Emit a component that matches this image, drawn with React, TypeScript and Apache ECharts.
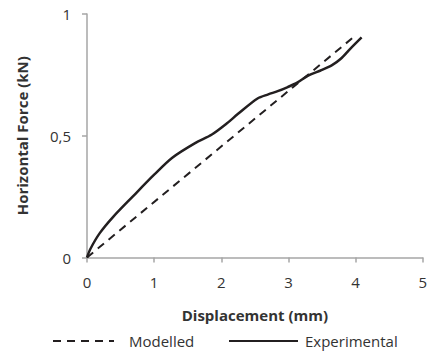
import React, { useEffect, useRef } from "react";
import * as echarts from "echarts";

const expX = [0, 0.05, 0.19, 0.39, 0.68, 1.0, 1.27, 1.61, 1.86, 2.08, 2.25, 2.54, 2.7, 2.84, 2.99, 3.13, 3.3, 3.48, 3.65, 3.78, 3.92, 4.09];
const expY = [0, 0.035, 0.1, 0.167, 0.25, 0.34, 0.41, 0.47, 0.505, 0.55, 0.59, 0.653, 0.67, 0.683, 0.70, 0.718, 0.748, 0.768, 0.79, 0.816, 0.857, 0.904];
const modX = [0, 4.0];
const modY = [0, 0.912];
const xTicks = [0, 1, 2, 3, 4, 5];
const yTicks = [0, 0.5, 1];

const FONT = "'Open Sans', sans-serif";
const TXT = "#333333";
const AX = "#a6a6a6";
const LINE = "#231f20";

export default function App() {
  const ref = useRef<HTMLDivElement>(null);
  useEffect(() => {
    if (!ref.current) return;
    const chart = echarts.init(ref.current, null, { renderer: "svg" });
    chart.setOption({
      animation: false,
      textStyle: { fontFamily: FONT },
      grid: { left: 87, right: 3, top: 14, bottom: 93.5 },
      xAxis: {
        type: "value",
        min: xTicks[0],
        max: xTicks[xTicks.length - 1],
        interval: 1,
        name: "Displacement (mm)",
        nameLocation: "middle",
        nameGap: 50,
        nameTextStyle: { fontFamily: FONT, fontSize: 15, fontWeight: "bold", color: TXT },
        axisLine: { lineStyle: { color: AX, width: 1.5 } },
        axisTick: { show: true, length: 5, lineStyle: { color: AX, width: 1.5 } },
        axisLabel: { fontFamily: FONT, fontSize: 15, color: TXT, margin: 17 },
        splitLine: { show: false },
      },
      yAxis: {
        type: "value",
        min: yTicks[0],
        max: yTicks[yTicks.length - 1],
        interval: 0.5,
        name: "Horizontal Force (kN)",
        nameLocation: "middle",
        nameGap: 58,
        nameTextStyle: { fontFamily: FONT, fontSize: 15, fontWeight: "bold", color: TXT },
        axisLine: { show: true, lineStyle: { color: AX, width: 1.5 } },
        axisTick: { show: true, length: 5, lineStyle: { color: AX, width: 1.5 } },
        axisLabel: {
          fontFamily: FONT,
          fontSize: 15,
          color: TXT,
          margin: 16,
          formatter: (v: number) => String(v).replace(".", ","),
        },
        splitLine: { show: false },
      },
      legend: [
        {
          data: ["Modelled"],
          left: 47,
          top: 333,
          padding: [0, 5, 0, 5],
          itemWidth: 61,
          itemHeight: 14,
          itemStyle: { opacity: 0 },
          textStyle: { fontFamily: FONT, fontSize: 15, lineHeight: 16, color: TXT, padding: [0, 0, 0, 10] },
        },
        {
          data: ["Experimental"],
          left: 223,
          top: 333,
          padding: [0, 5, 0, 5],
          itemWidth: 69,
          itemHeight: 14,
          itemStyle: { opacity: 0 },
          textStyle: { fontFamily: FONT, fontSize: 15, lineHeight: 16, color: TXT, padding: [0, 0, 0, 2] },
        },
      ],
      series: [
        {
          name: "Modelled",
          type: "line",
          data: modX.map((x, i) => [x, modY[i]]),
          symbol: "none",
          lineStyle: { color: LINE, width: 2, type: [8, 6] },
          itemStyle: { color: LINE },
        },
        {
          name: "Experimental",
          type: "line",
          data: expX.map((x, i) => [x, expY[i]]),
          symbol: "none",
          smooth: 0.3,
          lineStyle: { color: LINE, width: 2.5 },
          itemStyle: { color: LINE },
        },
      ],
    });
    return () => chart.dispose();
  }, []);
  return (
    <div
      ref={ref}
      style={{ position: "absolute", left: 0, top: 0, width: 430, height: 351 }}
    />
  );
}
